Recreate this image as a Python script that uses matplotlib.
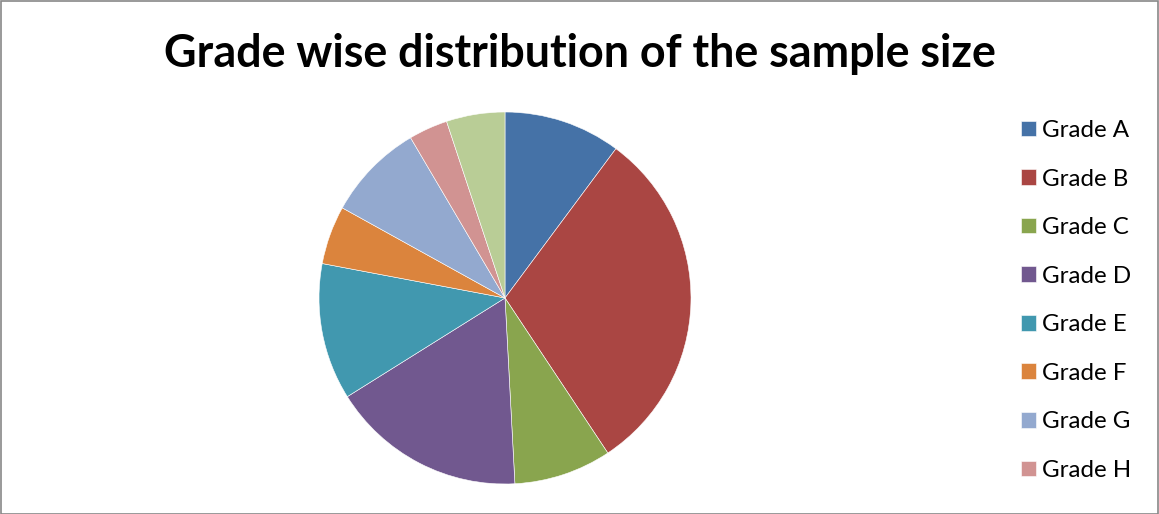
#!/usr/bin/env python3

import matplotlib
matplotlib.use('Agg')
import matplotlib.pyplot as plt
from matplotlib.patches import Rectangle

# Grade counts (slices run clockwise from 12 o'clock)
grades = ['Grade A', 'Grade B', 'Grade C', 'Grade D', 'Grade E',
          'Grade F', 'Grade G', 'Grade H', 'Grade I']
counts = [6, 18, 5, 10, 7, 3, 5, 2, 3]
colors = ['#4572A7', '#AA4643', '#89A54E', '#71588F', '#4198AF',
          '#DB843D', '#93A9CF', '#D19392', '#B9CD96']
# only the first eight fit in the legend box
legend_count = 8

plt.rcParams['font.family'] = ['Lato', 'DejaVu Sans']

W, H = 1159, 514
fig = plt.figure(figsize=(W / 100, H / 100), dpi=100)

# pie axes: centre (505, 298) px, radius 186 px
cx, cy, r = 505, 298, 186
ax = fig.add_axes([(cx - r) / W, (H - cy - r) / H, 2 * r / W, 2 * r / H])
wedges, _ = ax.pie(counts, colors=colors, startangle=90, counterclock=False,
                   radius=1, wedgeprops=dict(edgecolor='white', linewidth=0.4))
ax.set_xlim(-1, 1)
ax.set_ylim(-1, 1)
ax.set_aspect('equal')
ax.axis('off')

fig.text(0.5, 1 - 54 / H, 'Grade wise distribution of the sample size',
         ha='center', va='center', fontsize=32.3, fontweight='bold')

fig.legend(wedges[:legend_count], grades[:legend_count],
           loc='upper left', bbox_to_anchor=(1021 / W, 1 - 120 / H),
           frameon=False, fontsize=17.4, handlelength=0.62, handleheight=0.62,
           handletextpad=0.25, labelspacing=1.14, borderpad=0, borderaxespad=0)

# thin grey frame round the chart area
fig.patches.append(Rectangle((0.5 / W, 0.5 / H), 1 - 1.5 / W, 1 - 1.5 / H,
                             transform=fig.transFigure, fill=False,
                             edgecolor='#878787', linewidth=1.2))

fig.savefig('out.png', dpi=100)
